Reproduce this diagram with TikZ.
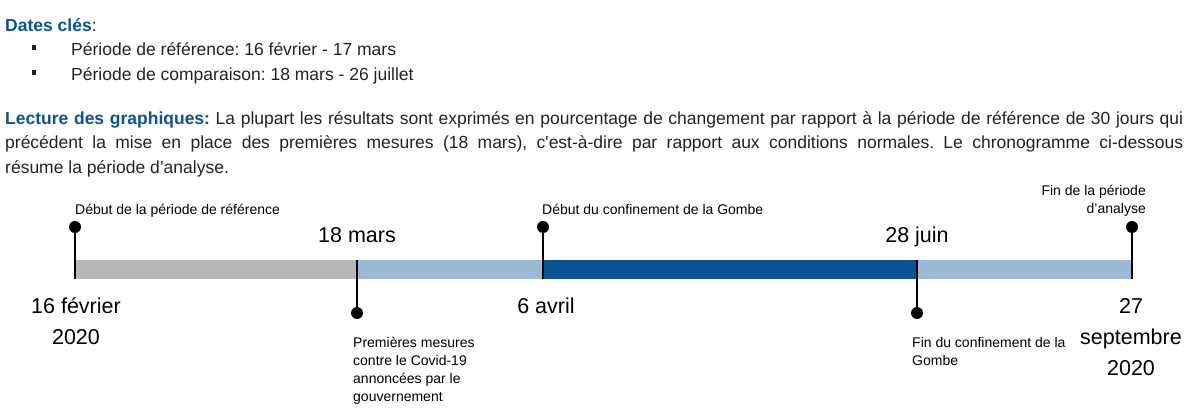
\documentclass[tikz,border=0pt]{standalone}
\usepackage{fontspec}
\setmainfont{Liberation Sans}
\definecolor{gr}{HTML}{B7B7B7}
\definecolor{lb}{HTML}{9DBAD5}
\definecolor{db}{HTML}{0B5394}
\definecolor{txt}{HTML}{222222}
\begin{document}
\frenchspacing
\begin{tikzpicture}[x=1pt,y=-1pt,
  body/.style={anchor=base west, inner sep=0, font=\fontsize{17.5}{24.5}\selectfont, text=txt},
  lab/.style={inner sep=0, font=\fontsize{14}{18}\selectfont, text=black},
  datelab/.style={inner sep=0, font=\fontsize{21.5}{31}\selectfont, text=black, align=center},
  dotmark/.style={circle, fill=black, inner sep=0, minimum size=12pt},
  tickline/.style={black, line width=1.3pt}]
\useasboundingbox (0,0) rectangle (1201,415);
% header text
\node[body] (h1) at (5,31) {\textcolor{db}{\bfseries Dates clés}:};
\node[body] (i1) at (71,55) {Période de référence: 16 février - 17 mars};
\node[body] (i2) at (71,80) {Période de comparaison: 18 mars - 26 juillet};
\fill[txt] (31.5,45) rectangle (36,49.5);
\fill[txt] (31.5,70) rectangle (36,74.5);
% multi-line nodes: anchor base = baseline of last line
\node[body, align=left] (para) at (5,173) {\makebox[1178pt][s]{\textcolor{db}{\bfseries Lecture des graphiques:} La plupart les résultats sont exprimés en pourcentage de changement par rapport à la période de référence de 30 jours qui}\\
\makebox[1178pt][s]{précédent la mise en place des premières mesures (18 mars), c\textquotesingle est-à-dire par rapport aux conditions normales. Le chronogramme ci-dessous}\\
résume la période d’analyse.};
% bar
\coordinate (b1t) at (75,260);   \coordinate (b1) at (75,279);
\coordinate (b2t) at (357,260);  \coordinate (b2) at (357,279);
\coordinate (b3t) at (543,260);  \coordinate (b3) at (543,279);
\coordinate (b4t) at (917,260);  \coordinate (b4) at (917,279);
\coordinate (b5t) at (1132,260); \coordinate (b5) at (1132,279);
\fill[gr] (b1t) rectangle (b2);
\fill[lb] (b2t) rectangle (b3);
\fill[db] (b3t) rectangle (b4);
\fill[lb] (b4t) rectangle (b5);
% dots
\node[dotmark] (d1) at (75,227) {};
\node[dotmark] (d2) at (357,313) {};
\node[dotmark] (d3) at (543,227) {};
\node[dotmark] (d4) at (917,313) {};
\node[dotmark] (d5) at (1132,227) {};
\draw[tickline] (d1.center) -- (b1);
\draw[tickline] (b2t) -- (d2.center);
\draw[tickline] (d3.center) -- (b3);
\draw[tickline] (b4t) -- (d4.center);
\draw[tickline] (d5.center) -- (b5);
% small labels
\node[lab, anchor=base west] (l1) at (75,214) {Début de la période de référence};
\node[lab, anchor=base west] (l3) at (542,214) {Début du confinement de la Gombe};
\node[lab, anchor=base east, align=right] (l5) at (1146,213) {Fin de la période\\d’analyse};
\node[lab, anchor=base west, align=left] (l2) at (353,401) {Premières mesures\\contre le Covid-19\\annoncées par le\\gouvernement};
\node[lab, anchor=base west, align=left] (l4) at (912,365) {Fin du confinement de la\\Gombe};
% date labels
\node[datelab, anchor=base] (t2) at (357,242) {18 mars};
\node[datelab, anchor=base] (t4) at (917,242) {28 juin};
\node[datelab, anchor=base] (t1) at (76,344) {16 février\\2020};
\node[datelab, anchor=base] (t3) at (546,313) {6 avril};
\node[datelab, anchor=base] (t5) at (1131,375) {27\\septembre\\2020};
\end{tikzpicture}
\end{document}
